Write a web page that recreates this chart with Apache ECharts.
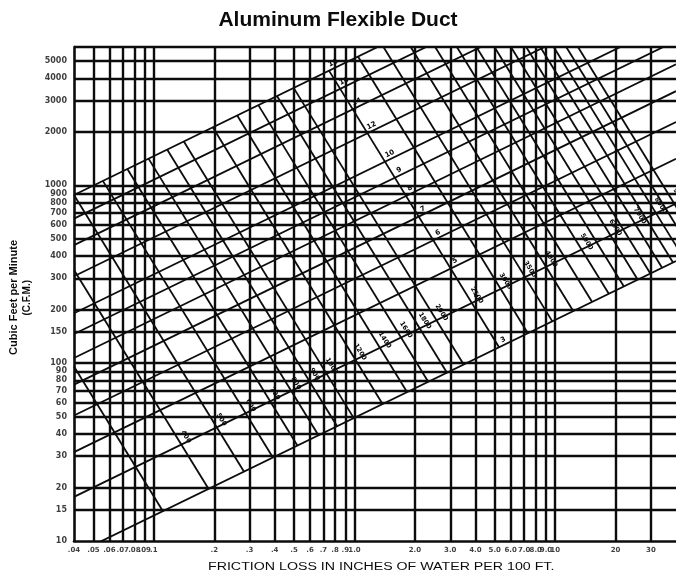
<!DOCTYPE html>
<html><head><meta charset="utf-8">
<script src="https://cdn.jsdelivr.net/npm/echarts@6/dist/echarts.min.js"></script>
<style>html,body{margin:0;padding:0;background:#fff}#c{width:676px;height:577px}</style>
</head><body><div id="c"></div>
<script>
// ---- axis gridlines and tick labels ----
const xGrid = [0.05,0.06,0.07,0.08,0.09,0.1,0.2,0.3,0.4,0.5,0.6,0.7,0.8,0.9,1,2,3,4,5,6,7,8,9,10,20,30];
const xTickValues = [0.04,0.05,0.06,0.07,0.08,0.09,0.1,0.2,0.3,0.4,0.5,0.6,0.7,0.8,0.9,1,2,3,4,5,6,7,8,9,10,20,30];
const xTickLabels = ['.04','.05','.06','.07','.08','.09','.1','.2','.3','.4','.5','.6','.7','.8','.9','1.0','2.0','3.0','4.0','5.0','6.0','7.0','8.0','9.0','10','20','30'];
const yGrid = [15,20,30,40,50,60,70,80,90,100,150,200,300,400,500,600,700,800,900,1000,2000,3000,4000,5000,6000];
const yTickValues = [10,15,20,30,40,50,60,70,80,90,100,150,200,300,400,500,600,700,800,900,1000,2000,3000,4000,5000];
const yTickLabels = ['10','15','20','30','40','50','60','70','80','90','100','150','200','300','400','500','600','700','800','900','1000','2000','3000','4000','5000'];

// ---- duct diameter lines (inches): endpoints [friction, cfm] ----
const diameters = [3,4,5,6,7,8,9,10,12,14,16,18];
const diameterStart = [[0.04,8.4],[0.04,17.7],[0.04,31.6],[0.04,50.8],[0.04,75.8],[0.04,107],[0.04,146],[0.04,191],[0.04,308],[0.04,461],[0.04,650],[0.04,883]];
const diameterEnd = [[40,375],[40,790],[40,1411],[40,2269],[40,3386],[40,4792],[40,6502],[40,8526],[40,13760],[40,20586],[40,29058],[40,39445]];
// diameter label anchors (on the 2500 fpm line)
const diameterLabelAt = [[5.25,122.7],[3.85,218],[3.02,341],[2.48,491],[2.09,668],[1.80,872],[1.592,1104],[1.429,1364],[1.159,1963],[0.977,2672],[0.846,3490],[0.746,4418]];

// ---- velocity lines (fpm): endpoints [friction, cfm], from the 3" line up to the 18" line ----
const velocities = [300,400,500,600,700,800,900,1000,1200,1400,1600,1800,2000,2500,3000,3500,4000,4500,5000,5500,6000,6500,7000,7500,8000,8500,9000];
const velocityLow = [[0.111,14.7],[0.1875,19.6],[0.281,24.6],[0.392,29.5],[0.519,34.4],[0.661,39.3],[0.819,44.2],[0.992,49.1],[1.38,58.9],[1.83,68.7],[2.33,78.6],[2.89,88.4],[3.5,98.2],[5.25,122.8],[7.31,147.3],[9.68,171.9],[12.3,196.4],[15.28,221],[18.5,245.5],[22.0,270],[25.8,294.6],[29.8,319.2],[34.1,343.7],[38.66,368.3],[43.5,392.8],[48.6,417.4],[53.8,441.9]];
const velocityHigh = [[0.04,95.7],[0.04,334],[0.04,883.5],[0.0557,1060],[0.0738,1237],[0.0941,1414],[0.1165,1590],[0.1411,1767],[0.1966,2120],[0.2603,2474],[0.3316,2827],[0.4108,3181],[0.4974,3534],[0.746,4418],[1.04,5301],[1.394,6000],[1.905,6000],[2.523,6000],[3.236,6000],[4.05,6000],[4.98,6000],[6.02,6000],[7.17,6000],[8.43,6000],[9.83,6000],[11.35,6000],[12.99,6000]];
// velocity labels (on the 4 inch line)
const velocityLabels = ['400','500','600','700','800','900','1000','1200','1400','1600','1800','2000','2500','3000','3500','4000','5000','6000','7000','8000','9000'];
const velocityLabelAt = [[0.137,34.9],[0.206,43.6],[0.288,52.4],[0.38,61.1],[0.484,69.8],[0.6,78.5],[0.729,87.3],[1.011,104.7],[1.34,122.2],[1.71,139.7],[2.12,157.1],[2.57,174.6],[3.85,218],[5.36,261.9],[7.1,305.6],[9.05,349],[13.6,436.5],[18.9,524],[25.0,611],[31.8,698],[39.5,785]];

const INK = '#0c0c0c';
const FONT = 'DejaVu Sans';
const series = [];
series.push({
  type:'line', data:[], silent:true,
  markLine:{
    silent:true, symbol:'none', animation:false,
    lineStyle:{color:INK,width:2.4,type:'solid'},
    label:{show:false},
    data: xGrid.map(v=>({xAxis:v})).concat(yGrid.map(v=>({yAxis:v})))
  }
});
diameters.forEach((d,i)=>{
  series.push({type:'line', name:'D'+d, data:[diameterStart[i],diameterEnd[i]], symbol:'none', silent:true,
    lineStyle:{color:INK,width:1.8}, animation:false});
});
velocities.forEach((v,i)=>{
  series.push({type:'line', name:'V'+v, data:[velocityLow[i],velocityHigh[i]], symbol:'none', silent:true,
    lineStyle:{color:INK,width:1.8}, animation:false});
});
// in-plot labels
series.push({type:'scatter', symbolSize:0, silent:true, animation:false, itemStyle:{opacity:1},
  data: diameters.map((d,i)=>({value:diameterLabelAt[i], name:String(d)})),
  label:{show:true, position:'inside', offset:[7,-5], rotate:26, formatter:p=>p.name, fontSize:7, fontWeight:'bold', color:'#000', fontFamily:FONT,
    backgroundColor:'#fff', padding:[0,1]}});
series.push({type:'scatter', symbolSize:0, silent:true, animation:false, itemStyle:{opacity:1},
  data: velocityLabels.map((t,i)=>({value:velocityLabelAt[i], name:t})),
  label:{show:true, position:'inside', offset:[-4,-8], rotate:-58, formatter:p=>p.name, fontSize:6.5, fontWeight:'bold', color:'#000', fontFamily:FONT}});
// tick labels
series.push({type:'scatter', clip:false, symbolSize:0, silent:true, animation:false,
  data: xTickValues.map((v,i)=>({value:[v,10], name:xTickLabels[i]})),
  label:{show:true, position:'bottom', distance:6, formatter:p=>p.name, fontSize:7, fontWeight:'bold', color:INK, fontFamily:FONT}});
series.push({type:'scatter', clip:false, symbolSize:0, silent:true, animation:false,
  data: yTickValues.map((v,i)=>({value:[0.04,v], name:yTickLabels[i]})),
  label:{show:true, position:'left', distance:7, formatter:p=>p.name, fontSize:8, fontWeight:'bold', color:INK, fontFamily:FONT}});

const chart = echarts.init(document.getElementById('c'), null, {renderer:'canvas'});
chart.setOption({
  animation:false,
  backgroundColor:'#fff',
  title:{text:'Aluminum Flexible Duct', left:'center', top:5, textStyle:{fontSize:21, fontWeight:'bold', color:INK, fontFamily:'Liberation Sans'}},
  grid:{left:74, right:0, top:47, bottom:36},
  xAxis:{type:'log', logBase:10, min:0.04, max:40, axisLabel:{show:false}, axisTick:{show:false}, splitLine:{show:false}, minorTick:{show:false},
    axisLine:{show:true, lineStyle:{color:INK,width:2.6}}},
  yAxis:{type:'log', logBase:10, min:10, max:6000, axisLabel:{show:false}, axisTick:{show:false}, splitLine:{show:false},
    axisLine:{show:true, lineStyle:{color:INK,width:2.6}}},
  graphic:[
    {type:'text', left:8, top:240, rotation:Math.PI/2, style:{text:'Cubic Feet per Minute', fontSize:11, fontWeight:'bold', fill:INK, fontFamily:'Liberation Sans'}},
    {type:'text', left:22, top:280, rotation:Math.PI/2, style:{text:'(C.F.M.)', fontSize:10, fontWeight:'bold', fill:INK, fontFamily:'Liberation Sans'}},
    {type:'text', x:208, y:562, scaleX:1.42, style:{text:'FRICTION LOSS IN INCHES OF WATER PER 100 FT.', fontSize:10, fill:INK, fontFamily:'Liberation Sans'}}
  ],
  series: series
});
</script></body></html>
